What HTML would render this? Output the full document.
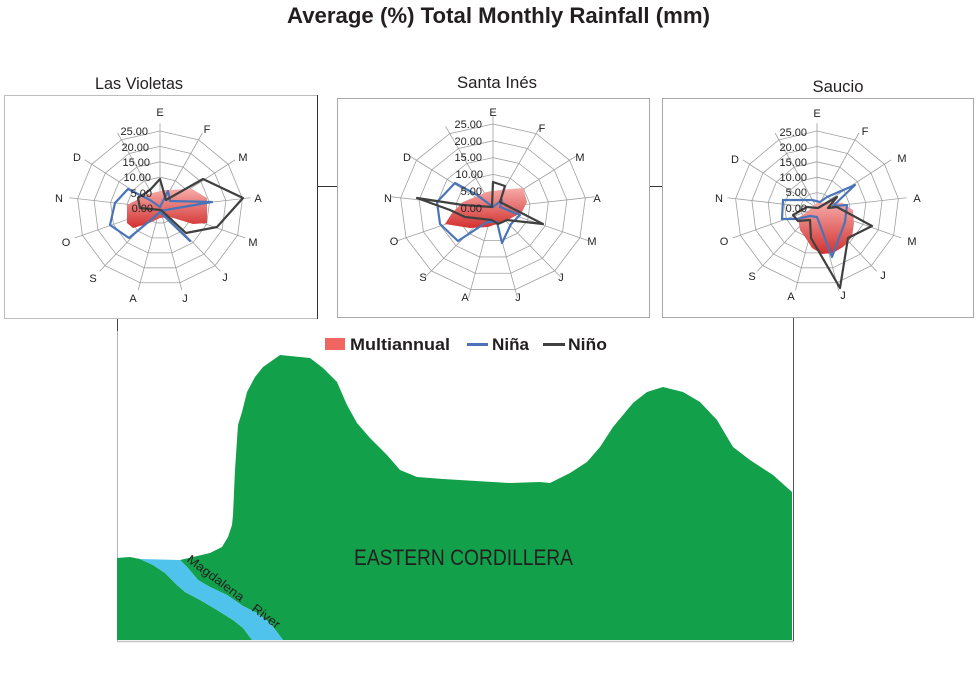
<!DOCTYPE html>
<html><head><meta charset="utf-8"><style>
html,body{margin:0;padding:0;background:#fff;}
svg{display:block;}
text{font-family:"Liberation Sans",sans-serif;}
</style></head><body>
<svg width="977" height="687" viewBox="0 0 977 687" xmlns="http://www.w3.org/2000/svg">
<defs>
<linearGradient id="rg" x1="0" y1="0" x2="0" y2="1"><stop offset="0" stop-color="#f6aba9"/><stop offset="1" stop-color="#d2312f"/></linearGradient>
<polygon id="p13" points="0,-100 46.47,-88.55 82.30,-56.81 99.27,-12.05 93.50,35.46 66.31,74.85 23.93,97.09 -23.93,97.09 -66.31,74.85 -93.50,35.46 -99.27,-12.05 -82.30,-56.81 -46.47,-88.55" fill="none" stroke="#a0a0a0" stroke-width="0.8" vector-effect="non-scaling-stroke"/>
<g id="grid">
<use href="#p13"/><use href="#p13" transform="scale(0.8)"/><use href="#p13" transform="scale(0.6)"/><use href="#p13" transform="scale(0.4)"/><use href="#p13" transform="scale(0.2)"/>
<path d="M0,0L0,-110M0,0L51.1,-97.4M0,0L90.5,-62.5M0,0L109.2,-13.3M0,0L102.9,39M0,0L72.9,82.3M0,0L26.3,106.8M0,0L-26.3,106.8M0,0L-72.9,82.3M0,0L-102.9,39M0,0L-109.2,-13.3M0,0L-90.5,-62.5M0,0L-51.1,-97.4" stroke="#a0a0a0" stroke-width="0.8" fill="none" vector-effect="non-scaling-stroke"/>
</g>
</defs>

<rect width="977" height="687" fill="#fff"/>

<!-- Title -->
<text x="287" y="23" font-size="22" font-weight="bold" fill="#231f20" textLength="423" lengthAdjust="spacingAndGlyphs">Average (%) Total Monthly Rainfall (mm)</text>

<!-- bottom box lines -->
<line x1="117.5" y1="318" x2="117.5" y2="641" stroke="#b5b5b5" stroke-width="1"/>
<line x1="117.5" y1="318" x2="117.5" y2="331" stroke="#444" stroke-width="1"/>
<line x1="117" y1="641.5" x2="794" y2="641.5" stroke="#c4c4c4" stroke-width="1.5"/>
<line x1="793.5" y1="318" x2="793.5" y2="641" stroke="#555" stroke-width="1"/>
<!-- connectors -->
<line x1="317" y1="186.5" x2="338" y2="186.5" stroke="#333" stroke-width="1"/>
<line x1="650" y1="186.5" x2="663" y2="186.5" stroke="#333" stroke-width="1"/>

<!-- Terrain -->
<path fill="#12a04a" d="M283,640 L277,632 L270,623 L257,613 L243,606 L227,595 L210,587 L198,580 L188,568 L180,560 L193,557 L210,553 L222,547 L228,537 L232,525 L233,515 L235,470 L238,425 L242,412 L247,392 L255,377 L263,367 L280,355 L290,356 L300,357 L310,358 L323,368 L337,382 L347,405 L357,423 L370,438 L387,455 L400,470 L417,477 L443,479 L510,483 L540,482 L550,483 L570,473 L587,462 L600,447 L613,427 L633,403 L647,392 L663,387 L683,392 L700,402 L717,420 L733,447 L750,460 L773,475 L792,492 L792,640 Z"/>
<path fill="#12a04a" d="M117,558 L130,557 L140,559 L142,560 L153,565 L165,573 L177,585 L185,592 L200,600 L217,610 L233,620 L243,628 L252,640 L117,640 Z"/>
<path fill="#50c3ec" d="M140,559 L180,560 L188,568 L198,580 L210,587 L227,595 L243,606 L257,613 L270,623 L277,632 L283,640 L252,640 L243,628 L233,620 L217,610 L200,600 L185,592 L177,585 L165,573 L153,565 L142,560 Z"/>
<text x="354" y="565" font-size="22" fill="#231f20" textLength="219" lengthAdjust="spacingAndGlyphs">EASTERN CORDILLERA</text>
<text transform="translate(186,561) rotate(37)" font-size="12.5" fill="#231f20" textLength="68" lengthAdjust="spacingAndGlyphs">Magdalena</text>
<text transform="translate(251,610) rotate(37)" font-size="12.5" fill="#231f20" textLength="32" lengthAdjust="spacingAndGlyphs">River</text>

<!-- Legend -->
<rect x="325" y="338" width="20" height="12" fill="#f0655f"/>
<text x="350" y="350" font-size="17" font-weight="bold" fill="#231f20" textLength="100" lengthAdjust="spacingAndGlyphs">Multiannual</text>
<line x1="467" y1="344.5" x2="488" y2="344.5" stroke="#4e72b8" stroke-width="3"/>
<text x="492" y="350" font-size="17" font-weight="bold" fill="#231f20" textLength="37" lengthAdjust="spacingAndGlyphs">Niña</text>
<line x1="543" y1="344.5" x2="565" y2="344.5" stroke="#404040" stroke-width="3"/>
<text x="568" y="350" font-size="17" font-weight="bold" fill="#231f20" textLength="39" lengthAdjust="spacingAndGlyphs">Niño</text>

<!-- Chart titles -->
<text x="139" y="89" font-size="16.5" fill="#231f20" text-anchor="middle" textLength="88" lengthAdjust="spacingAndGlyphs">Las Violetas</text>
<text x="497" y="88" font-size="16.5" fill="#231f20" text-anchor="middle" textLength="80" lengthAdjust="spacingAndGlyphs">Santa Inés</text>
<text x="838" y="92" font-size="16.5" fill="#231f20" text-anchor="middle" textLength="51" lengthAdjust="spacingAndGlyphs">Saucio</text>

<!-- ========== Box 1: Las Violetas ========== -->
<rect x="4.5" y="95.5" width="313" height="223" fill="#fff" stroke="#bdbdbd" stroke-width="1"/>
<line x1="317.5" y1="95" x2="317.5" y2="319" stroke="#333" stroke-width="1"/>
<g transform="translate(160,208) scale(0.83,0.77)"><use href="#grid"/></g>
<polygon points="127,205 148,194 165,190 192,189 207,198 207,223 193,224 170,217 160,218 147,224 133,228 127,223" fill="url(#rg)"/>
<polygon points="160,207 168,191 170,201 212,202 160,211 190,241 160,212 152,219 129,238 110,225 115,203 128,189 150,200" fill="none" stroke="#4a74b8" stroke-width="2.2" stroke-linejoin="round"/>
<polygon points="160,179 166,200 203,179 243,198 217,227 186,233 161,210 150,209 140,208 138,198 150,190" fill="none" stroke="#404040" stroke-width="2.2" stroke-linejoin="round"/>
<g font-size="11" fill="#222" text-anchor="end">
<text x="148" y="135">25.00</text><text x="149" y="151">20.00</text><text x="150" y="166">15.00</text><text x="151" y="181">10.00</text><text x="152" y="197">5.00</text><text x="153" y="212">0.00</text>
</g>
<g font-size="11" fill="#222" text-anchor="middle">
<text x="160" y="116">E</text><text x="207" y="133">F</text><text x="243" y="161">M</text><text x="258" y="202">A</text><text x="253" y="246">M</text><text x="225" y="281">J</text><text x="185" y="302">J</text><text x="133" y="302">A</text><text x="93" y="282">S</text><text x="66" y="246">O</text><text x="59" y="202">N</text><text x="77" y="161">D</text>
</g>

<!-- ========== Box 2: Santa Inés ========== -->
<rect x="337.5" y="98.5" width="312" height="219" fill="#fff" stroke="#a8a8a8" stroke-width="1"/>
<g transform="translate(493,208) scale(0.93,0.84)"><use href="#grid"/></g>
<polygon points="445,224 452,213 463,202 487,192 500,190 523,188 527,202 522,212 508,220 488,227 470,228" fill="url(#rg)"/>
<polygon points="455,183 437,202 440,224 458,241 487,222 497,222 502,243 511,224 520,215 500,207 502,200 493,207 477,195" fill="none" stroke="#4a74b8" stroke-width="2.2" stroke-linejoin="round"/>
<polygon points="493,182 505,186 500,202 543,224 507,220 498,224 492,220 465,217 450,210 417,198 463,205 492,207" fill="none" stroke="#404040" stroke-width="2.2" stroke-linejoin="round"/>
<g font-size="11" fill="#222" text-anchor="end">
<text x="482" y="128">25.00</text><text x="482" y="145">20.00</text><text x="482" y="161">15.00</text><text x="483" y="178">10.00</text><text x="482" y="195">5.00</text><text x="482" y="212">0.00</text>
</g>
<g font-size="11" fill="#222" text-anchor="middle">
<text x="493" y="116">E</text><text x="542" y="132">F</text><text x="580" y="161">M</text><text x="597" y="202">A</text><text x="592" y="245">M</text><text x="561" y="281">J</text><text x="518" y="301">J</text><text x="465" y="301">A</text><text x="423" y="281">S</text><text x="394" y="245">O</text><text x="388" y="202">N</text><text x="407" y="161">D</text>
</g>

<!-- ========== Box 3: Saucio ========== -->
<rect x="662.5" y="98.5" width="311" height="219" fill="#fff" stroke="#a8a8a8" stroke-width="1"/>
<g transform="translate(817,208) scale(0.82,0.77)"><use href="#grid"/></g>
<polygon points="798,218 807,212 817,203 830,202 843,203 853,210 854,223 852,237 843,247 833,253 822,254 812,248 807,240 800,230" fill="url(#rg)"/>
<polygon points="783,200 782,219 797,219 810,216 817,217 832,257 845,222 847,205 833,206 855,185 827,197 820,202 812,200 803,200" fill="none" stroke="#4a74b8" stroke-width="2.2" stroke-linejoin="round"/>
<polygon points="793,215 807,207 818,208 837,197 828,208 837,207 872,226 848,238 840,288 811,238 810,220 798,221" fill="none" stroke="#404040" stroke-width="2.2" stroke-linejoin="round"/>
<g font-size="11" fill="#222" text-anchor="end">
<text x="807" y="136">25.00</text><text x="807" y="151">20.00</text><text x="807" y="166">15.00</text><text x="807" y="181">10.00</text><text x="807" y="196">5.00</text><text x="807" y="212">0.00</text>
</g>
<g font-size="11" fill="#222" text-anchor="middle">
<text x="817" y="117">E</text><text x="865" y="135">F</text><text x="902" y="162">M</text><text x="917" y="202">A</text><text x="912" y="245">M</text><text x="883" y="279">J</text><text x="843" y="299">J</text><text x="791" y="300">A</text><text x="752" y="280">S</text><text x="724" y="245">O</text><text x="719" y="202">N</text><text x="735" y="163">D</text>
</g>
</svg>
</body></html>
